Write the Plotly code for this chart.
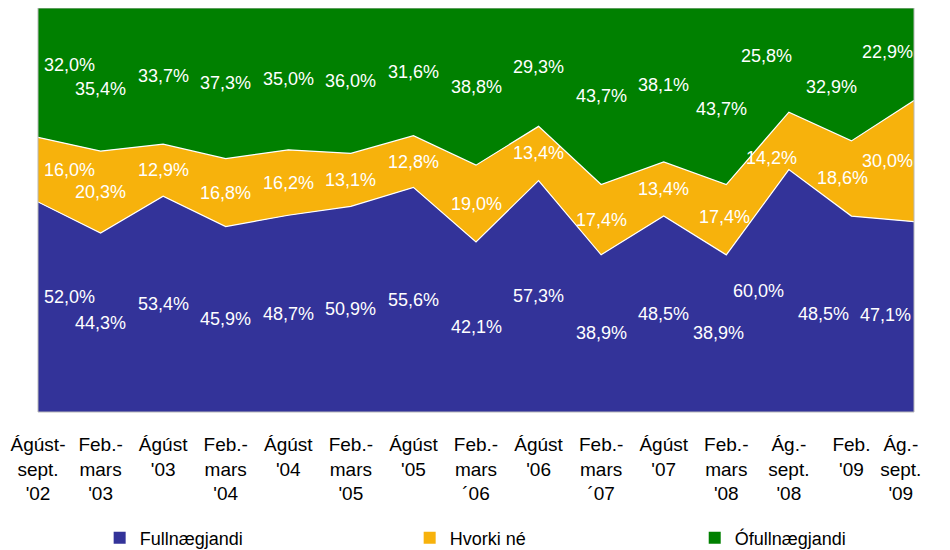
import plotly.graph_objects as go

categories = [
    "Ágúst-<br>sept.<br>'02", "Feb.-<br>mars<br>'03", "Ágúst<br>'03", "Feb.-<br>mars<br>'04",
    "Ágúst<br>'04", "Feb.-<br>mars<br>'05", "Ágúst<br>'05", "Feb.-<br>mars<br>´06",
    "Ágúst<br>'06", "Feb.-<br>mars<br>´07", "Ágúst<br>'07", "Feb.-<br>mars<br>'08",
    "Ág.-<br>sept.<br>'08", "Feb.<br>'09", "Ág.-<br>sept.<br>'09",
]
fullnaegjandi = [52.0, 44.3, 53.4, 45.9, 48.7, 50.9, 55.6, 42.1, 57.3, 38.9, 48.5, 38.9, 60.0, 48.5, 47.1]
hvorki_ne = [16.0, 20.3, 12.9, 16.8, 16.2, 13.1, 12.8, 19.0, 13.4, 17.4, 13.4, 17.4, 14.2, 18.6, 30.0]
ofullnaegjandi = [32.0, 35.4, 33.7, 37.3, 35.0, 36.0, 31.6, 38.8, 29.3, 43.7, 38.1, 43.7, 25.8, 32.9, 22.9]

series_names = ["Fullnægjandi", "Hvorki né", "Ófullnægjandi"]
colors = ["#333399", "#F7B20C", "#008000"]

FONT = "Liberation Sans, Arial, sans-serif"
W, H = 942, 542

x = list(range(len(categories)))
series = [fullnaegjandi, hvorki_ne, ofullnaegjandi]

# last tick label sits a bit left of its category in the reference: pad lines
ticktext = list(categories)
ticktext[-1] = "<br>".join(line + "\u00a0" * 5 for line in categories[-1].split("<br>"))

legend_ids = ["legend", "legend2", "legend3"]
legend_x = [0.0973, 0.4264, 0.7290]

fig = go.Figure()
for name, vals, col, lw in zip(series_names, series, colors, [1.2, 1.2, 0]):
    fig.add_trace(go.Scatter(
        x=x, y=vals, name=name, mode="lines", stackgroup="one",
        line=dict(color="white", width=lw), fillcolor=col, showlegend=False,
        hoverinfo="skip",
    ))
# legend entries (square markers), one legend box per entry
for name, col, lid in zip(series_names, colors, legend_ids):
    fig.add_trace(go.Scatter(
        x=[None], y=[None], name=name, mode="markers", legend=lid,
        marker=dict(symbol="square", size=12, color=col), showlegend=True,
    ))

# label nudges in pixels: (series index, category index) -> (dx, dy_down)
nudges = {
    (0, 0): (31, -10), (1, 0): (31, 0), (2, 0): (31, -8),
    (2, 1): (0, 9),
    (0, 11): (-8, 0), (1, 11): (-2, -3), (2, 11): (-5, 13),
    (0, 12): (-30, 0), (1, 12): (-17, 17), (2, 12): (-22, -4),
    (0, 13): (-28, 0), (1, 13): (-9, 0), (2, 13): (-20, 13),
    (0, 14): (-29, -2), (1, 14): (-27, 0), (2, 14): (-27, -2),
}

for i in x:
    base = 0.0
    for s, vals in enumerate(series):
        v = vals[i]
        mid = base + v / 2
        base += v
        dx, dy = nudges.get((s, i), (0, 0))
        fig.add_annotation(
            x=i, y=mid, text=f"{v:.1f}%".replace(".", ","),
            showarrow=False, xshift=dx, yshift=-dy,
            font=dict(family=FONT, size=18, color="white"),
        )

fig.add_shape(type="rect", xref="paper", yref="paper", x0=0, y0=0, x1=1, y1=1,
              line=dict(color="#B8B8B8", width=1), layer="above")

legend_common = dict(orientation="h", xref="container", yref="container",
                     y=12 / H, xanchor="left", yanchor="middle",
                     font=dict(family=FONT, size=18, color="black"),
                     bgcolor="rgba(0,0,0,0)")

fig.update_layout(
    width=W, height=H,
    margin=dict(l=30, r=36, t=0, b=138, autoexpand=False),
    paper_bgcolor="white", plot_bgcolor="white",
    font=dict(family=FONT, size=18, color="black"),
    xaxis=dict(range=[0, 14], tickvals=x, ticktext=ticktext, showgrid=False,
               zeroline=False, showline=False, ticks="", ticklabelstandoff=19,
               ticklabeloverflow="allow", tickangle=0, automargin=False,
               tickfont=dict(family=FONT, size=19, color="black")),
    yaxis=dict(range=[0, 100], visible=False, automargin=False),
    legend=dict(x=legend_x[0], **legend_common),
    legend2=dict(x=legend_x[1], **legend_common),
    legend3=dict(x=legend_x[2], **legend_common),
)

fig.write_html("out.html")
